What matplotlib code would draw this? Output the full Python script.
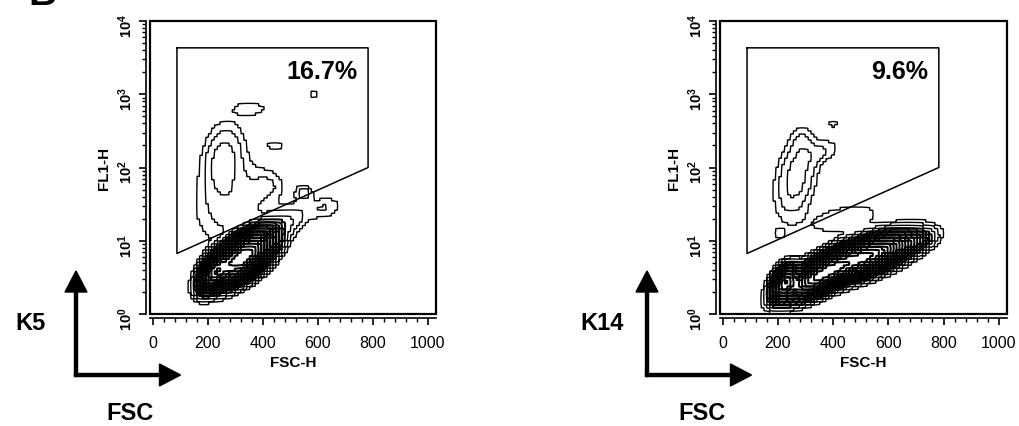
import numpy as np
import matplotlib
matplotlib.use('Agg')
import matplotlib.pyplot as plt
from matplotlib.patches import Rectangle, FancyArrow
from matplotlib.ticker import FixedLocator, MultipleLocator, LogLocator, NullFormatter, FuncFormatter

plt.rcParams['font.family'] = ['Liberation Sans', 'DejaVu Sans']
plt.rcParams['mathtext.fontset'] = 'custom'
plt.rcParams['mathtext.rm'] = 'Liberation Sans'
plt.rcParams['mathtext.bf'] = 'Liberation Sans:bold'

# ---- data ----
marker_names = ['K5', 'K14']
percent_labels = ['16.7%', '9.6%']
x_ticks = [0, 200, 400, 600, 800, 1000]
y_decades = [0, 1, 2, 3, 4]

# gate polygon (FSC-H, FL1-H), same on both plots
gate_fsc = [88, 783, 783, 88]
gate_fl1 = [4300, 4300, 100, 6.7]

# cell populations: centre FSC, centre log10 FL1, spread FSC, spread log10 FL1, correlation, peak height
k5_cx = [325, 225, 255, 300, 420, 355, 584, 625, 550, 480, 445]
k5_cy = [0.77, 0.57, 2.10, 1.50, 1.75, 2.80, 3.00, 1.45, 1.65, 1.25, 2.30]
k5_sx = [55, 28, 45, 90, 35, 45, 12, 40, 20, 55, 30]
k5_sy = [0.18, 0.13, 0.30, 0.35, 0.12, 0.07, 0.05, 0.10, 0.07, 0.15, 0.06]
k5_rho = [0.6, 0.5, 0.2, 0.2, 0.0, 0.0, 0.0, 0.2, 0.0, 0.5, 0.0]
k5_peak = [1.0, 0.6, 0.02, 0.012, 0.006, 0.007, 0.006, 0.008, 0.012, 0.014, 0.005]

k14_cx = [355, 510, 225, 265, 350, 400, 440, 700, 205, 285]
k14_cy = [0.53, 0.77, 0.43, 1.85, 2.20, 2.60, 1.30, 0.98, 1.10, 2.35]
k14_sx = [65, 85, 25, 45, 50, 14, 90, 40, 15, 25]
k14_sy = [0.16, 0.16, 0.12, 0.33, 0.12, 0.04, 0.14, 0.09, 0.05, 0.12]
k14_rho = [0.7, 0.65, 0.4, 0.3, 0.5, 0.0, 0.4, 0.5, 0.0, 0.0]
k14_peak = [0.8, 0.7, 0.5, 0.02, 0.008, 0.006, 0.008, 0.04, 0.006, 0.006]

contour_levels = [0.004, 0.008, 0.015, 0.024, 0.032, 0.04, 0.05, 0.06, 0.072, 0.086,
                  0.1, 0.12, 0.14, 0.165, 0.19, 0.22, 0.26, 0.3, 0.35, 0.41, 0.48,
                  0.56, 0.66, 0.8]


def density(cx, cy, sx, sy, rho, peak):
    nb = 96
    xc = (np.arange(nb) + 0.5) * 1024 / nb
    yc = (np.arange(nb) + 0.5) * 4 / nb
    X, Y = np.meshgrid(xc, yc)
    Z = np.zeros_like(X)
    for i in range(len(cx)):
        dx = (X - cx[i]) / sx[i]
        dy = (Y - cy[i]) / sy[i]
        q = (dx**2 - 2 * rho[i] * dx * dy + dy**2) / (1 - rho[i]**2)
        Z += peak[i] * np.exp(-0.5 * q)
    # blocky channel look like the cytometer software
    up = 4
    Zf = np.kron(Z, np.ones((up, up)))
    xf = (np.arange(nb * up) + 0.5) * 1024 / (nb * up)
    yf = (np.arange(nb * up) + 0.5) * 4 / (nb * up)
    return xf, 10**yf, Zf


def draw_panel(ax, comps, pct):
    xf, yf, Zf = density(*comps)
    lws = [1.0 if lv < 0.02 else 1.45 for lv in contour_levels]
    ax.contour(xf, yf, Zf, levels=contour_levels, colors='black', linewidths=lws)
    ax.plot(gate_fsc + gate_fsc[:1], gate_fl1 + gate_fl1[:1], color='black', lw=1.1)
    ax.text(745, 10**3.32, pct, ha='right', va='center', fontsize=18, fontweight='bold')

    ax.set_yscale('log')
    ax.set_xlim(-10, 1030)
    ax.set_ylim(1, 1e4)
    ax.xaxis.set_major_locator(FixedLocator(x_ticks))
    ax.xaxis.set_minor_locator(MultipleLocator(40))
    ax.xaxis.set_major_formatter(FuncFormatter(lambda v, p: '%d' % v))
    ax.yaxis.set_major_locator(FixedLocator([10**d for d in y_decades]))
    ax.yaxis.set_minor_locator(LogLocator(base=10, subs=range(2, 10)))
    ax.yaxis.set_minor_formatter(NullFormatter())
    ax.yaxis.set_major_formatter(FuncFormatter(
        lambda v, p: r'$\mathbf{10^{%d}}$' % round(np.log10(v))))
    ax.tick_params(which='major', direction='out', length=5, width=1.2)
    ax.tick_params(axis='x', which='major', pad=7, labelsize=11.5)
    ax.tick_params(axis='y', which='major', pad=3, labelsize=10.5, labelrotation=90)
    ax.tick_params(which='minor', direction='out', length=3, width=1)
    for lab in ax.get_xticklabels():
        lab.set_fontweight('bold')
    for lab in ax.get_yticklabels():
        lab.set_verticalalignment('center')

    for s in ['top', 'right']:
        ax.spines[s].set_visible(False)
    for s in ['left', 'bottom']:
        ax.spines[s].set_position(('outward', 3))
        ax.spines[s].set_linewidth(1.2)
    ax.add_patch(Rectangle((0, 0), 1, 1, transform=ax.transAxes, fill=False,
                           lw=1.6, color='black', clip_on=False))
    ax.set_xlabel('FSC-H', fontsize=11, fontweight='bold', labelpad=4)
    ax.set_ylabel('FL1-H', fontsize=11, fontweight='bold', labelpad=4)


fig = plt.figure(figsize=(10.19, 4.27), dpi=100)
ax1 = fig.add_axes([150 / 1019, 112 / 427, 286 / 1019, 293 / 427])
ax2 = fig.add_axes([720 / 1019, 112 / 427, 287 / 1019, 293 / 427])
draw_panel(ax1, (k5_cx, k5_cy, k5_sx, k5_sy, k5_rho, k5_peak), percent_labels[0])
draw_panel(ax2, (k14_cx, k14_cy, k14_sx, k14_sy, k14_rho, k14_peak), percent_labels[1])

# overlay in pixel units for the axis-direction arrows and marker names
ov = fig.add_axes([0, 0, 1, 1])
ov.set_xlim(0, 1019)
ov.set_ylim(427, 0)
ov.axis('off')
for x0, name, fsc_x in [(76, marker_names[0], 130), (647, marker_names[1], 702)]:
    ov.add_patch(FancyArrow(x0, 377.5, 0, -105.5, width=3, head_width=22, head_length=21,
                            length_includes_head=True, color='black'))
    ov.add_patch(FancyArrow(x0 - 1.5, 376, 106, 0, width=3, head_width=22, head_length=21,
                            length_includes_head=True, color='black'))
    ov.text(x0 - 45, 330, name, ha='center', va='baseline', fontsize=17, fontweight='bold')
    ov.text(fsc_x, 420, 'FSC', ha='center', va='baseline', fontsize=17, fontweight='bold')
ov.text(42, 5, 'B', ha='center', va='baseline', fontsize=28, fontweight='bold')

fig.savefig('out.png', dpi=100)
